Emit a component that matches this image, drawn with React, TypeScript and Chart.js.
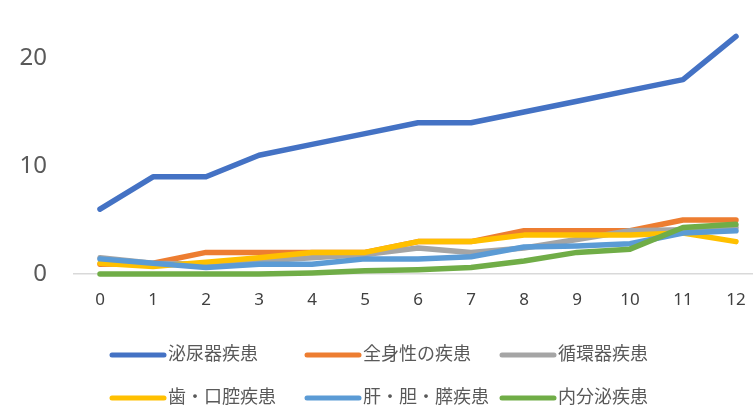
import React, { useEffect, useRef } from "react";
import { Chart, registerables } from "chart.js";

Chart.register(...registerables);

const categories = ["0", "1", "2", "3", "4", "5", "6", "7", "8", "9", "10", "11", "12"];
const seriesNames = ["泌尿器疾患", "全身性の疾患", "循環器疾患", "歯・口腔疾患", "肝・胆・膵疾患", "内分泌疾患"];
const urinary = [6, 9, 9, 11, 12, 13, 14, 14, 15, 16, 17, 18, 22];
const systemic = [0.9, 1, 2, 2, 2, 2, 3, 3, 4, 4, 4, 5, 5];
const circulatory = [1.5, 1, 0.9, 1.2, 1.5, 1.8, 2.4, 2, 2.4, 3.2, 4, 4.1, 4.3];
const dental = [1, 0.7, 1.1, 1.5, 2, 2, 3, 3, 3.6, 3.6, 3.6, 3.8, 3];
const hepatic = [1.4, 1, 0.6, 0.9, 0.9, 1.4, 1.4, 1.6, 2.5, 2.6, 2.8, 3.8, 4];
const endocrine = [0, 0, 0, 0, 0.1, 0.3, 0.4, 0.6, 1.2, 2, 2.3, 4.3, 4.6];
const yTicks = [0, 10, 20];
const colors = ["#4472C4", "#ED7D31", "#A5A5A5", "#FFC000", "#5B9BD5", "#70AD47"];

const legendPlugin = {
  id: "gridLegend",
  afterDraw(chart: any) {
    const ctx = chart.ctx;
    ctx.save();
    chart.data.datasets.forEach((ds: any, i: number) => {
      const col = i % 3;
      const row = Math.floor(i / 3);
      const x0 = 110 + col * 195;
      const y = 355 + row * 43;
      ctx.strokeStyle = ds.borderColor;
      ctx.lineWidth = 5;
      ctx.lineCap = "round";
      ctx.beginPath();
      ctx.moveTo(x0 + 2, y);
      ctx.lineTo(x0 + 54, y);
      ctx.stroke();
      ctx.fillStyle = "#595959";
      ctx.font = '18px "Noto Sans CJK JP"';
      ctx.textBaseline = "middle";
      ctx.textAlign = "left";
      ctx.fillText(ds.label, x0 + 58, y - 2);
    });
    ctx.restore();
  },
};

export default function App() {
  const ref = useRef<HTMLCanvasElement | null>(null);
  useEffect(() => {
    if (!ref.current) return;
    const values = [urinary, systemic, circulatory, dental, hepatic, endocrine];
    const chart = new Chart(ref.current, {
      type: "line",
      data: {
        labels: categories,
        datasets: values.map((v, i) => ({
          label: seriesNames[i],
          data: v,
          borderColor: colors[i],
          backgroundColor: colors[i],
          borderWidth: 5.5,
          pointRadius: 0,
          borderCapStyle: "round",
          borderJoinStyle: "round",
          tension: 0,
          clip: false,
          order: 6 - i,
        })),
      },
      options: {
        animation: false,
        responsive: false,
        devicePixelRatio: 1,
        layout: { padding: { top: 14.8, right: 27.5, bottom: 91, left: 0 } },
        plugins: { legend: { display: false }, tooltip: { enabled: false } },
        scales: {
          x: {
            offset: true,
            grid: { display: false, drawTicks: false },
            border: { display: true, color: "#D9D9D9", width: 1.5 },
            ticks: {
              color: "#404040",
              font: { family: "Noto Sans", size: 17 },
              padding: 16,
              maxRotation: 0,
              autoSkip: false,
            },
            afterFit: (s: any) => {
              s.height = 40;
              s.paddingLeft = 0;
              s.paddingRight = 0;
            },
          },
          y: {
            min: 0,
            max: 24,
            grid: { display: false, drawTicks: false },
            border: { display: false },
            ticks: {
              color: "#595959",
              font: { family: "Noto Sans", size: 24 },
              padding: 26.5,
            },
            afterBuildTicks: (s: any) => {
              s.ticks = yTicks.map((v) => ({ value: v }));
            },
            afterFit: (s: any) => {
              s.width = 73.5;
              s.paddingTop = 0;
              s.paddingBottom = 0;
            },
          },
        },
      },
      plugins: [legendPlugin],
    } as any);
    return () => chart.destroy();
  }, []);
  return (
    <div style={{ position: "absolute", left: 0, top: 0, width: 753, height: 405, overflow: "hidden", background: "#fff" }}>
      <canvas ref={ref} width={790} height={405} style={{ display: "block" }} />
    </div>
  );
}
